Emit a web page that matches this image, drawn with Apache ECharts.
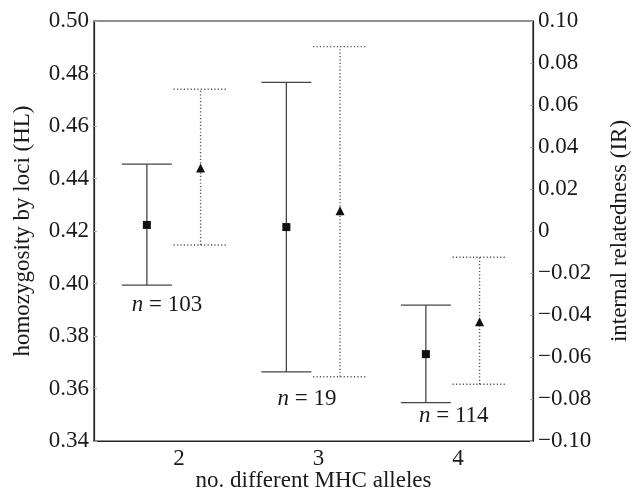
<!DOCTYPE html>
<html>
<head>
<meta charset="utf-8">
<script src="https://cdn.jsdelivr.net/npm/echarts@6/dist/echarts.min.js"></script>
<style>
html,body{margin:0;padding:0;background:#fff;}
#chart{width:632px;height:493px;}
</style>
</head>
<body>
<div id="chart"></div>
<script>
// ---- data ----
var categories = [2, 3, 4];
var hlMean = [0.4223, 0.4215, 0.3731];
var hlLow  = [0.3994, 0.3663, 0.3546];
var hlHigh = [0.4455, 0.4766, 0.3918];
var irMean = [0.0300, 0.0097, -0.0432];
var irLow  = [-0.0067, -0.0694, -0.0730];
var irHigh = [0.0675, 0.0878, -0.0125];
var sampleSizes = ['103', '19', '114'];
var nLabelX = [1.915, 2.918, 3.97];
var nLabelY = [0.3918, 0.3560, 0.3495];
var hlTicks = [0.34, 0.36, 0.38, 0.40, 0.42, 0.44, 0.46, 0.48, 0.50];
var irTicks = [-0.10, -0.08, -0.06, -0.04, -0.02, 0, 0.02, 0.04, 0.06, 0.08, 0.10];

var HL_OFFSET = -0.23, IR_OFFSET = 0.155;
var FONT = '"Liberation Serif", "Times New Roman", serif';
var INK = '#1a1a1a';

function errData(low, high, off) {
  return categories.map(function (c, i) { return [c + off, low[i], high[i]]; });
}
function meanData(mean, off) {
  return categories.map(function (c, i) { return [c + off, mean[i]]; });
}
function makeRender(halfW, dashed, color) {
  return function (params, api) {
    var x = api.value(0);
    var lo = api.coord([x, api.value(1)]);
    var hi = api.coord([x, api.value(2)]);
    var style = { stroke: color, lineWidth: dashed ? 1.4 : 1.3, lineDash: dashed ? [1.2, 2.2] : null };
    return {
      type: 'group',
      children: [
        { type: 'line', shape: { x1: lo[0], y1: lo[1], x2: hi[0], y2: hi[1] }, style: style },
        { type: 'line', shape: { x1: lo[0] - halfW, y1: lo[1], x2: lo[0] + halfW, y2: lo[1] }, style: style },
        { type: 'line', shape: { x1: hi[0] - halfW, y1: hi[1], x2: hi[0] + halfW, y2: hi[1] }, style: style }
      ]
    };
  };
}

var chart = echarts.init(document.getElementById('chart'), null, { renderer: 'canvas' });
var option = {
  animation: false,
  backgroundColor: '#fff',
  textStyle: { fontFamily: FONT },
  grid: { left: 94, right: 99, top: 21, bottom: 52, containLabel: false, outerBoundsMode: 'none',
    show: true, borderColor: '#222', borderWidth: 1.2, backgroundColor: 'transparent' },
  xAxis: {
    type: 'value', min: 1.391, max: 4.538, splitNumber: 3,
    name: 'no. different MHC alleles', nameLocation: 'middle', nameGap: 28, nameMoveOverlap: false,
    nameTextStyle: { fontFamily: FONT, fontSize: 23, color: INK },
    axisLine: { onZero: false, lineStyle: { color: '#222', width: 1.2 } },
    axisTick: { show: false },
    splitLine: { show: false },
    axisLabel: {
      fontFamily: FONT, fontSize: 23, color: INK, margin: 6,
      showMinLabel: false, showMaxLabel: false,
      formatter: function (v) {
        var r = Math.round(v);
        return (Math.abs(v - r) < 1e-6 && categories.indexOf(r) >= 0) ? String(r) : '';
      }
    }
  },
  yAxis: [
    {
      type: 'value', min: 0.34, max: 0.50, interval: 0.02, position: 'left',
      name: 'homozygosity by loci (HL)', nameLocation: 'middle', nameGap: 60, nameRotate: 90,
      nameTextStyle: { fontFamily: FONT, fontSize: 23, color: INK },
      axisLine: { show: true, lineStyle: { color: '#222', width: 1.2 } },
      axisTick: { show: true, inside: true, length: 3, lineStyle: { color: '#aaa' } },
      splitLine: { show: false },
      axisLabel: { fontFamily: FONT, fontSize: 23, color: INK, margin: 5,
        formatter: function (v) { return v.toFixed(2); } }
    },
    {
      type: 'value', min: -0.10, max: 0.10, interval: 0.02, position: 'right',
      name: 'internal relatedness (IR)', nameLocation: 'middle', nameGap: 75, nameRotate: 90,
      nameTextStyle: { fontFamily: FONT, fontSize: 23, color: INK },
      axisLine: { show: true, lineStyle: { color: '#222', width: 1.2 } },
      axisTick: { show: true, inside: true, length: 3, lineStyle: { color: '#aaa' } },
      splitLine: { show: false },
      axisLabel: { fontFamily: FONT, fontSize: 23, color: INK, margin: 5,
        formatter: function (v) {
          if (Math.abs(v) < 1e-9) return '0';
          var s = Math.abs(v).toFixed(2);
          return v < 0 ? '\u2212' + s : s;
        } }
    }
  ],
  series: [
    {
      type: 'custom', name: 'HL', yAxisIndex: 0, data: errData(hlLow, hlHigh, HL_OFFSET),
      renderItem: makeRender(25, false, '#444'), encode: { x: 0, y: [1, 2] }, z: 2
    },
    {
      type: 'custom', name: 'IR', yAxisIndex: 1, data: errData(irLow, irHigh, IR_OFFSET),
      renderItem: makeRender(27, true, '#555'), encode: { x: 0, y: [1, 2] }, z: 2
    },
    {
      type: 'scatter', yAxisIndex: 0, data: meanData(hlMean, HL_OFFSET),
      symbol: 'rect', symbolSize: 8, itemStyle: { color: '#111', opacity: 1 }, z: 3
    },
    {
      type: 'scatter', yAxisIndex: 1, data: meanData(irMean, IR_OFFSET),
      symbol: 'triangle', symbolSize: 9, itemStyle: { color: '#111', opacity: 1 }, z: 3
    },
    {
      type: 'scatter', yAxisIndex: 0,
      data: categories.map(function (c, i) { return [nLabelX[i], nLabelY[i]]; }),
      symbolSize: 0, silent: true, itemStyle: { opacity: 1 },
      label: {
        show: true, position: 'inside', color: INK, opacity: 1,
        formatter: function (p) { return '{i|n}{t| = ' + sampleSizes[p.dataIndex] + '}'; },
        rich: {
          i: { fontFamily: FONT, fontSize: 23, fontStyle: 'italic', color: INK },
          t: { fontFamily: FONT, fontSize: 23, color: INK }
        }
      }
    }
  ]
};
chart.setOption(option);
</script>
</body>
</html>
